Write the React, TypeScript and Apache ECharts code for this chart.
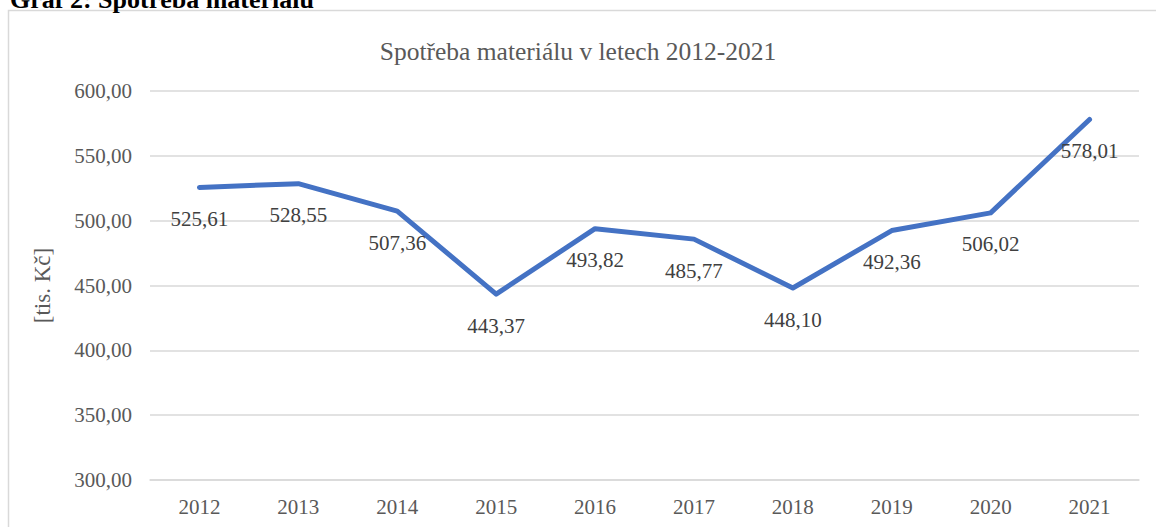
import React, { useEffect, useRef } from "react";
import * as echarts from "echarts";

const years = ["2012", "2013", "2014", "2015", "2016", "2017", "2018", "2019", "2020", "2021"];
const values = [525.61, 528.55, 507.36, 443.37, 493.82, 485.77, 448.1, 492.36, 506.02, 578.01];
const chartTitle = "Spotřeba materiálu v letech 2012-2021";
const heading = "Graf 2: Spotřeba materiálu";
const yName = "[tis. Kč]";

const serif = "'Liberation Serif', 'Times New Roman', serif";
const fmt = (v: number) => v.toFixed(2).replace(".", ",");

export default function App() {
  const ref = useRef<HTMLDivElement>(null);
  useEffect(() => {
    if (!ref.current) return;
    const chart = echarts.init(ref.current, undefined, { renderer: "svg" });
    chart.setOption({
      animation: false,
      backgroundColor: "#ffffff",
      title: {
        text: chartTitle,
        left: "center",
        top: 33,
        textStyle: { fontFamily: serif, fontSize: 25.5, fontWeight: "normal", color: "#595959" },
      },
      graphic: [
        {
          type: "rect",
          shape: { x: 8.5, y: 10.5, width: 1300, height: 700 },
          style: { fill: "none", stroke: "#d9d9d9", lineWidth: 1.5 },
          silent: true,
        },
        {
          type: "text",
          x: 10,
          y: 12,
          style: {
            text: heading,
            font: `bold 26px ${serif}`,
            fill: "#000000",
            verticalAlign: "bottom",
            align: "left",
          },
        },
      ],
      grid: { left: 150, right: 17, top: 91, bottom: 47, containLabel: false },
      xAxis: {
        type: "category",
        data: years,
        boundaryGap: true,
        axisLine: { show: true, lineStyle: { color: "#d9d9d9", width: 1.5 } },
        axisTick: { show: false },
        axisLabel: { fontFamily: serif, fontSize: 21, color: "#595959", margin: 16 },
      },
      yAxis: {
        type: "value",
        min: 300,
        max: 600,
        interval: 50,
        name: yName,
        nameLocation: "middle",
        nameRotate: 90,
        nameGap: 96,
        nameTextStyle: { fontFamily: serif, fontSize: 23, color: "#595959" },
        axisLine: { show: false },
        axisTick: { show: false },
        splitLine: { lineStyle: { color: "#d9d9d9", width: 1.5 } },
        axisLabel: {
          fontFamily: serif,
          fontSize: 21,
          color: "#595959",
          margin: 18,
          formatter: (v: number) => fmt(v),
        },
      },
      series: [
        {
          type: "line",
          data: values,
          showSymbol: true,
          symbol: "circle",
          symbolSize: 0.1,
          lineStyle: { color: "#4472C4", width: 5, cap: "round", join: "round" },
          itemStyle: { color: "#4472C4" },
          label: {
            show: true,
            position: "bottom",
            distance: 21,
            fontFamily: serif,
            fontSize: 21,
            color: "#404040",
            formatter: (p: any) => fmt(p.value),
          },
        },
      ],
    });
    return () => chart.dispose();
  }, []);
  return (
    <div
      ref={ref}
      style={{ position: "absolute", left: 0, top: 0, width: 1156, height: 527 }}
    />
  );
}
